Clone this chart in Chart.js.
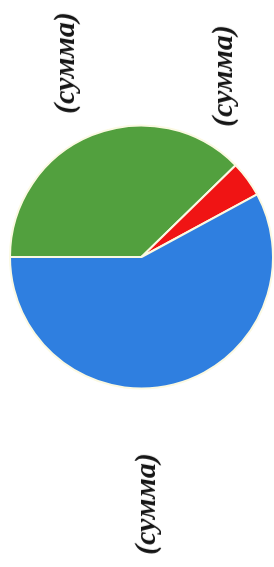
<!DOCTYPE html>
<html>
<head>
<meta charset="utf-8">
<script src="https://cdn.jsdelivr.net/npm/chart.js@4"></script>
<style>
  html, body { margin: 0; padding: 0; background: #fff; }
  #wrap { position: relative; width: 274px; height: 567px; overflow: hidden; }
  #wrap canvas { position: absolute; left: 0; top: 0; }
  .lbl {
    position: absolute;
    font-family: "Liberation Serif", "DejaVu Serif", serif;
    font-weight: bold;
    font-style: italic;
    font-size: 30px;
    color: #151515;
    white-space: nowrap;
    transform: translate(-50%, -50%) rotate(-90deg);
  }
</style>
</head>
<body>
<div id="wrap">
  <canvas id="pie" width="274" height="567"></canvas>
</div>
<script>
/* данные диаграммы */
const labels = ['(сумма)', '(сумма)', '(сумма)'];
const values = [37.7, 4.4, 57.9];
const colors = ['#52a03e', '#f01414', '#2f7fe0'];

/* подписи сегментов: центр подписи (x, y) */
const labelPos = [[64, 63], [222, 76], [145, 504]];

const wrap = document.getElementById('wrap');
labels.forEach((t, i) => {
  const d = document.createElement('div');
  d.className = 'lbl';
  d.textContent = t;
  d.style.left = labelPos[i][0] + 'px';
  d.style.top = labelPos[i][1] + 'px';
  wrap.appendChild(d);
});

new Chart(document.getElementById('pie'), {
  type: 'pie',
  data: {
    labels: labels,
    datasets: [{
      data: values,
      backgroundColor: colors,
      borderColor: '#fbf9e2',
      borderWidth: 2,
    }]
  },
  options: {
    responsive: false,
    animation: false,
    rotation: 270,
    layout: { padding: { left: 9, right: 0, top: 124, bottom: 177 } },
    plugins: {
      legend: { display: false },
      tooltip: { enabled: false },
    },
  },
});
</script>
</body>
</html>
